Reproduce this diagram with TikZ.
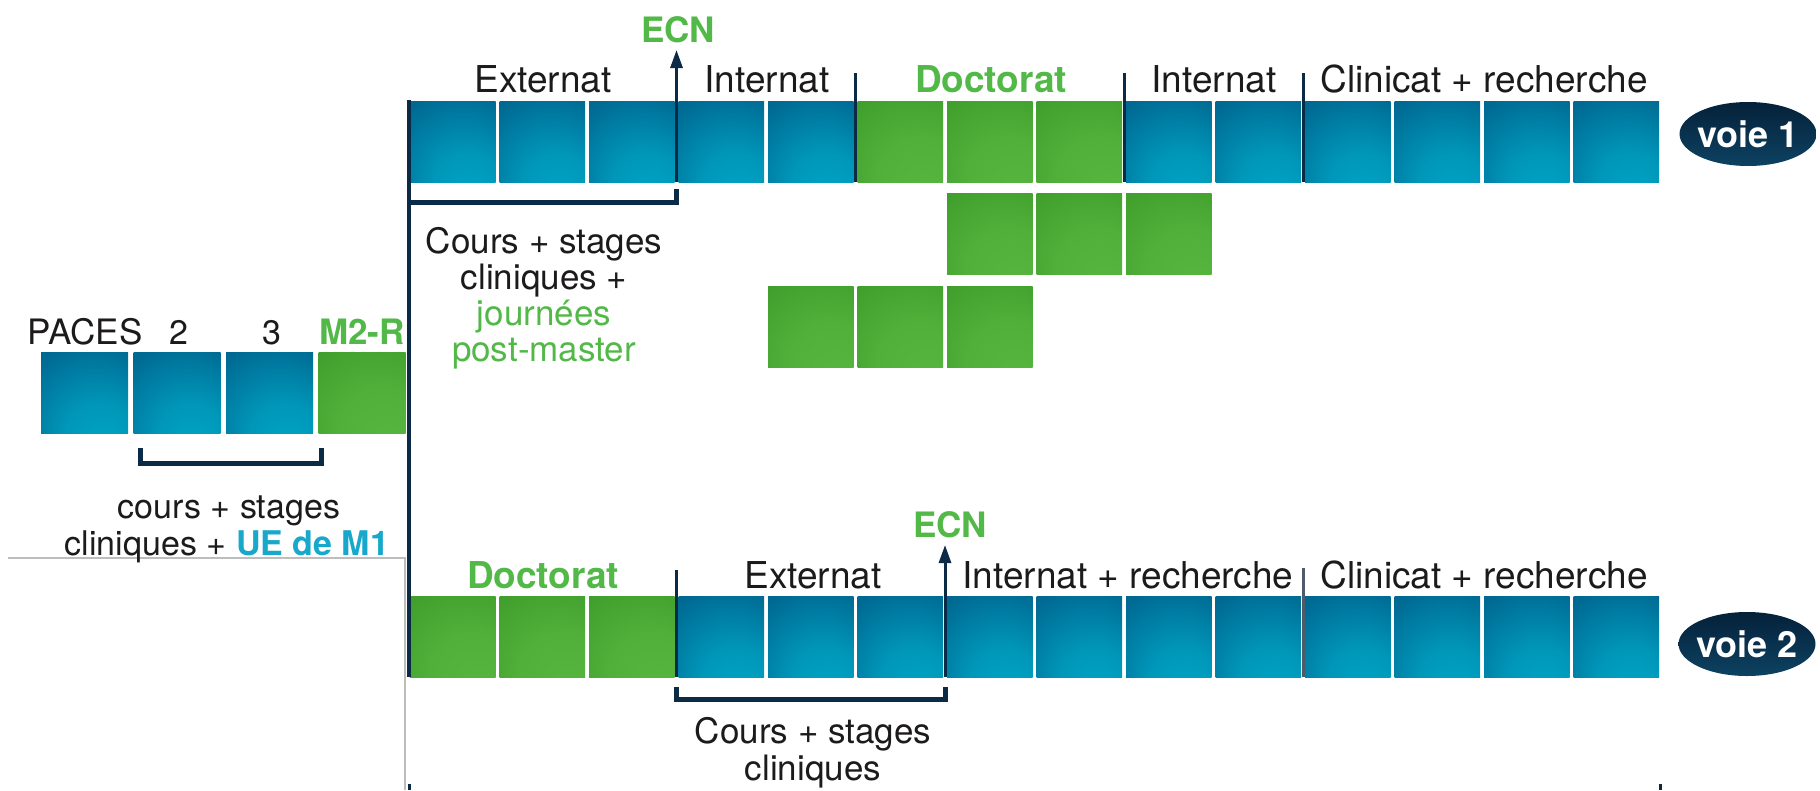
\documentclass[tikz,border=0pt]{standalone}
\usepackage{fontspec}
\setmainfont{TeX Gyre Heros}
\usetikzlibrary{arrows.meta,shapes.geometric}
\definecolor{bdark}{HTML}{005A85}
\definecolor{bcyan}{HTML}{00A6C6}
\definecolor{gdark}{HTML}{3A9727}
\definecolor{glight}{HTML}{56B63E}
\definecolor{navy}{HTML}{0B2A45}
\definecolor{lblgreen}{HTML}{52B848}
\definecolor{lblcyan}{HTML}{17A8CC}
\definecolor{txt}{HTML}{1C1A1A}
\definecolor{greyline}{HTML}{BDBDBD}
\definecolor{slate}{HTML}{4D5B6A}
\definecolor{ovtop}{HTML}{05213A}
\definecolor{ovbot}{HTML}{0D4262}
\pgfdeclareradialshading{bluecellshade}{\pgfpoint{12bp}{-38bp}}{color(0bp)=(bcyan); color(20bp)=(bcyan!80!bdark); color(45bp)=(bdark!80!bcyan); color(70bp)=(bdark)}
\pgfdeclareradialshading{greencellshade}{\pgfpoint{18bp}{-35bp}}{color(0bp)=(glight); color(25bp)=(glight!80!gdark); color(50bp)=(gdark!85!glight); color(70bp)=(gdark)}
\tikzset{
  cellbase/.style={rectangle, inner sep=0pt, outer sep=0pt, minimum width=85.5pt, minimum height=81pt, anchor=north west},
  bluecell/.style={cellbase, shading=bluecellshade},
  greencell/.style={cellbase, shading=greencellshade},
  vline/.style={draw=navy, line width=3.5pt},
  tickline/.style={draw=navy, line width=3pt},
  bracketline/.style={draw=navy, line width=5pt, line join=miter},
  ecnarrow/.style={tickline, -{Triangle[length=18pt,width=12pt]}},
  lbl/.style={anchor=base, inner sep=0pt, text=txt, font=\fontsize{37}{44}\selectfont},
  greenlbl/.style={lbl, text=lblgreen, font=\fontsize{37}{44}\selectfont\bfseries},
  ecnlbl/.style={lbl, text=lblgreen, font=\fontsize{35}{42}\selectfont\bfseries},
  smalllbl/.style={lbl, font=\fontsize{34}{40}\selectfont},
  notelbl/.style={lbl, font=\fontsize{35}{42}\selectfont},
  voieoval/.style={ellipse, minimum width=137pt, minimum height=64pt, inner sep=0pt, top color=ovtop, bottom color=ovbot, draw=none},
  voielbl/.style={anchor=center, inner sep=0pt, text=white, font=\fontsize{36}{43}\selectfont\bfseries}
}
\begin{document}
\begin{tikzpicture}[x=1pt,y=-1pt]
\useasboundingbox (0,0) rectangle (1820,790);
% ---- cells
\foreach \i in {0,1,2,3,4,8,9,10,11,12,13} \node[bluecell] (v1c\i) at ({410+89.5*\i},101) {};
\foreach \i in {5,6,7} \node[greencell] (v1c\i) at ({410+89.5*\i},101) {};
\foreach \i in {6,7,8} \node[greencell] (r2c\i) at ({410+89.5*\i},193) {};
\foreach \i in {4,5,6} \node[greencell] (r3c\i) at ({410+89.5*\i},286) {};
\foreach \i in {0,1,2} \node[greencell, minimum height=80.5pt] (v2c\i) at ({410+89.5*\i},596.5) {};
\foreach \i in {3,...,13} \node[bluecell, minimum height=80.5pt] (v2c\i) at ({410+89.5*\i},596.5) {};
\foreach \i/\s in {0/bluecell,1/bluecell,2/bluecell,3/greencell} \node[\s, minimum width=87pt] (lc\i) at ({41+92.5*\i},352) {};
% ---- grey rule
\coordinate (g1) at (8,558); \coordinate (g2) at (405,558); \coordinate (g3) at (405,790);
\draw[greyline, line width=1.5pt] (g1) -- (g2) -- (g3);
% ---- main vertical line
\coordinate (mtop) at (409,100); \coordinate (mbot) at (409,677);
\draw[vline] (mtop) -- (mbot);
% ---- voie 1 ticks
\coordinate (t1a) at (855.5,73); \coordinate (t1b) at (855.5,182);
\coordinate (t2a) at (1124,73); \coordinate (t2b) at (1124,182);
\coordinate (t3a) at (1303,73); \coordinate (t3b) at (1303,182);
\draw[tickline] (t1a) -- (t1b);
\draw[tickline] (t2a) -- (t2b);
\draw[tickline] (t3a) -- (t3b);
\coordinate (e1b) at (676.5,182); \coordinate (e1t) at (676.5,50);
\draw[ecnarrow] (e1b) -- (e1t);
% voie 1 bracket
\coordinate (b1a) at (407.5,202); \coordinate (b1b) at (676.5,202); \coordinate (b1c) at (676.5,189);
\draw[bracketline] (b1a) -- (b1b) -- (b1c);
% ---- voie 2 ticks
\coordinate (t4a) at (676.5,570); \coordinate (t4b) at (676.5,677);
\coordinate (t5a) at (1303,568); \coordinate (t5b) at (1303,677);
\draw[tickline] (t4a) -- (t4b);
\draw[tickline, draw=slate] (t5a) -- (t5b);
\coordinate (e2b) at (945,677); \coordinate (e2t) at (945,545);
\draw[ecnarrow] (e2b) -- (e2t);
% voie 2 bracket
\coordinate (b2a) at (676.5,687); \coordinate (b2b) at (676.5,699); \coordinate (b2c) at (945,699); \coordinate (b2d) at (945,687);
\draw[bracketline] (b2a) -- (b2b) -- (b2c) -- (b2d);
% left bracket
\coordinate (b3a) at (140,448); \coordinate (b3b) at (140,463); \coordinate (b3c) at (321,463); \coordinate (b3d) at (321,448);
\draw[bracketline] (b3a) -- (b3b) -- (b3c) -- (b3d);
% bottom ticks
\coordinate (bt1a) at (409,784); \coordinate (bt1b) at (409,790);
\coordinate (bt2a) at (1660,784); \coordinate (bt2b) at (1660,790);
\draw[tickline] (bt1a) -- (bt1b);
\draw[tickline] (bt2a) -- (bt2b);
% ---- voie ovals
\node[voieoval] (voie1) at (1748,134) {};
\node[voielbl] (voie1t) at (voie1.center) {voie 1};
\node[voieoval] (voie2) at (1747,644) {};
\node[voielbl] (voie2t) at (voie2.center) {voie 2};
% ---- labels voie 1
\node[ecnlbl] (ecn1) at (678,42) {ECN};
\node[lbl] (ext1) at (543,92) {Externat};
\node[lbl] (int1) at (767,92) {Internat};
\node[greenlbl] (doc1) at (991,92) {Doctorat};
\node[lbl] (int2) at (1214,92) {Internat};
\node[lbl] (cli1) at (1484,92) {Clinicat + recherche};
% note voie 1
\node[notelbl] (n1a) at (544,253) {Cours + stages};
\node[notelbl] (n1b) at (544,289) {cliniques +};
\node[notelbl, text=lblgreen] (n1c) at (544,325) {journées};
\node[notelbl, text=lblgreen] (n1d) at (544,361) {post-master};
% ---- left part
\node[smalllbl, font=\fontsize{35}{42}\selectfont] (paces) at (85,344) {PACES};
\node[smalllbl] (y2) at (179,344) {2};
\node[smalllbl] (y3) at (272,344) {3};
\node[smalllbl, text=lblgreen, font=\fontsize{35}{42}\selectfont\bfseries] (m2r) at (362,344) {M2-R};
\node[lbl, font=\fontsize{34}{40}\selectfont] (l1) at (229,518) {cours + stages};
\node[lbl, font=\fontsize{34}{40}\selectfont] (l2) at (227,555) {cliniques + \textcolor{lblcyan}{\bfseries UE de M1}};
% ---- labels voie 2
\node[ecnlbl] (ecn2) at (950,537) {ECN};
\node[greenlbl] (doc2) at (543,588) {Doctorat};
\node[lbl] (ext2) at (813,588) {Externat};
\node[lbl] (int3) at (1128,588) {Internat + recherche};
\node[lbl] (cli2) at (1484,588) {Clinicat + recherche};
\node[notelbl] (n2a) at (813,743) {Cours + stages};
\node[notelbl] (n2b) at (813,780) {cliniques};
\end{tikzpicture}
\end{document}
